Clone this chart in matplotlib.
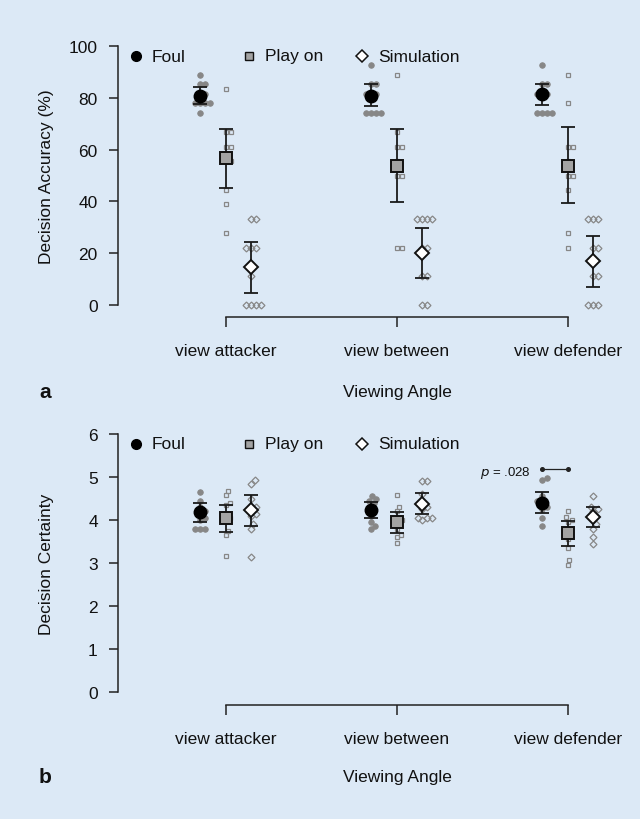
import matplotlib
matplotlib.use('Agg')
import matplotlib.pyplot as plt
import numpy as np

plt.rcParams['font.family'] = ['Liberation Sans', 'DejaVu Sans']

# ---------------- data ----------------
categories = ['view attacker', 'view between', 'view defender']
conditions = ['Foul', 'Play on', 'Simulation']

# Panel a: Decision accuracy (%) per participant
acc_foul = [
    [88.9, 85.2, 85.2, 81.5, 81.5, 77.8, 77.8, 77.8, 77.8, 74.1],
    [92.6, 85.2, 85.2, 81.5, 81.5, 81.5, 74.1, 74.1, 74.1, 74.1],
    [92.6, 85.2, 85.2, 81.5, 81.5, 81.5, 74.1, 74.1, 74.1, 74.1],
]
acc_playon = [
    [83.3, 66.7, 66.7, 61.1, 61.1, 55.6, 55.6, 44.4, 38.9, 27.8],
    [88.9, 66.7, 61.1, 61.1, 55.6, 50.0, 50.0, 22.2, 22.2],
    [88.9, 77.8, 61.1, 61.1, 55.6, 50.0, 50.0, 44.4, 27.8, 22.2],
]
acc_sim = [
    [33.3, 33.3, 22.2, 22.2, 22.2, 11.1, 0.0, 0.0, 0.0, 0.0],
    [33.3, 33.3, 33.3, 33.3, 22.2, 22.2, 11.1, 11.1, 0.0, 0.0],
    [33.3, 33.3, 33.3, 22.2, 22.2, 11.1, 11.1, 0.0, 0.0, 0.0],
]
acc_mean = {'Foul': [80.8, 80.8, 81.4], 'Play on': [56.7, 53.8, 53.8], 'Simulation': [14.5, 20.0, 16.9]}
acc_lo = {'Foul': [77.5, 76.7, 77.1], 'Play on': [45.3, 39.7, 39.5], 'Simulation': [4.6, 10.5, 6.8]}
acc_hi = {'Foul': [84.2, 85.3, 85.4], 'Play on': [68.1, 68.1, 68.6], 'Simulation': [24.5, 29.9, 26.7]}

# Panel b: Decision certainty per participant
cert_foul = [
    [4.65, 4.45, 4.30, 4.20, 4.15, 4.05, 4.00, 3.80, 3.80, 3.80],
    [4.55, 4.50, 4.45, 4.40, 4.30, 4.20, 4.10, 3.95, 3.87, 3.80],
    [4.97, 4.93, 4.55, 4.45, 4.40, 4.35, 4.30, 4.25, 4.05, 3.87],
]
cert_playon = [
    [4.67, 4.57, 4.40, 4.35, 4.15, 4.05, 4.00, 3.75, 3.65, 3.17],
    [4.58, 4.30, 4.20, 4.00, 3.95, 3.90, 3.80, 3.65, 3.60, 3.47],
    [4.22, 4.06, 4.00, 3.95, 3.80, 3.70, 3.55, 3.35, 3.07, 2.96],
]
cert_sim = [
    [4.93, 4.84, 4.50, 4.30, 4.25, 4.15, 4.10, 3.90, 3.79, 3.13],
    [4.90, 4.90, 4.60, 4.40, 4.30, 4.25, 4.05, 4.05, 4.05, 4.00],
    [4.55, 4.30, 4.25, 4.20, 4.10, 4.00, 3.90, 3.80, 3.60, 3.45],
]
cert_mean = {'Foul': [4.18, 4.23, 4.40], 'Play on': [4.04, 3.96, 3.69], 'Simulation': [4.23, 4.37, 4.07]}
cert_lo = {'Foul': [3.96, 4.05, 4.16], 'Play on': [3.71, 3.69, 3.39], 'Simulation': [3.85, 4.14, 3.84]}
cert_hi = {'Foul': [4.39, 4.43, 4.64], 'Play on': [4.35, 4.18, 3.97], 'Simulation': [4.59, 4.62, 4.31]}

p_label = '.028'
p_y = 5.18

# ---------------- style ----------------
BG = '#dce9f6'
PT = '#878787'
W, H = 640, 820
DPI = 100
XPX = 171.0  # pixels per category unit
cond_off = [-0.15, 0.0, 0.15]

pt_style = {
    'Foul': dict(marker='o', ms=4.0, mfc=PT, mec=PT, mew=0.6),
    'Play on': dict(marker='s', ms=3.5, mfc='none', mec=PT, mew=0.9),
    'Simulation': dict(marker='D', ms=3.5, mfc='none', mec=PT, mew=0.9),
}
mean_style = {
    'Foul': dict(marker='o', ms=9.0, mfc='black', mec='black', mew=1.0),
    'Play on': dict(marker='s', ms=8.0, mfc='#a3a3a3', mec='#111111', mew=1.4),
    'Simulation': dict(marker='D', ms=7.6, mfc='white', mec='#111111', mew=1.4),
}
leg_style = {
    'Foul': dict(marker='o', ms=7.0, mfc='black', mec='black', mew=1.0),
    'Play on': dict(marker='s', ms=6.0, mfc='#a3a3a3', mec='#111111', mew=1.0),
    'Simulation': dict(marker='D', ms=5.8, mfc='white', mec='#111111', mew=1.1),
}


def swarm(values, ypx, d=5.0):
    """R-beeswarm-like horizontal offsets (in category units)."""
    vals = np.asarray(values, float)
    order = np.argsort(vals, kind='stable')
    placed = []
    offs = np.zeros(len(vals))
    for i in order:
        y = vals[i] * ypx
        cands = [0.0]
        for (px, py) in placed:
            dy = abs(y - py)
            if dy < d:
                dx = np.sqrt(d * d - dy * dy) + 1e-6
                cands += [px + dx, px - dx]
        best = None
        for c in sorted(cands, key=lambda v: (round(abs(v), 6), -v)):
            if all((c - px) ** 2 + (y - py) ** 2 >= d * d - 1e-6 for px, py in placed):
                best = c
                break
        placed.append((best, y))
        offs[i] = best
    return offs / XPX


def panel(ax, pts, mean, lo, hi, ypx, yticks, ylim, ypix0, spine_out):
    ax.set_facecolor('none')
    ax.set_xlim(0.37, 3.37)
    ax.set_ylim(*ylim)
    for ci, cond in enumerate(conditions):
        for gi in range(3):
            vals = pts[cond][gi]
            xo = swarm(vals, ypx)
            x = gi + 1 + cond_off[ci] + xo
            ax.plot(x, vals, ls='none', zorder=2, clip_on=False, **pt_style[cond])
    for ci, cond in enumerate(conditions):
        x = np.arange(1, 4) + cond_off[ci]
        m = np.array(mean[cond])
        err = np.vstack([m - np.array(lo[cond]), np.array(hi[cond]) - m])
        ax.errorbar(x, m, yerr=err, fmt='none', ecolor='#1a1a1a', elinewidth=1.3,
                    capsize=4.8, capthick=1.3, zorder=3, clip_on=False)
        ax.plot(x, m, ls='none', zorder=4, clip_on=False, **mean_style[cond])
    # axes
    for s in ['top', 'right']:
        ax.spines[s].set_visible(False)
    ax.spines['left'].set_bounds(yticks[0], yticks[-1])
    ax.spines['bottom'].set_bounds(1, 3)
    ax.spines['bottom'].set_position(('outward', spine_out))
    for s in ['left', 'bottom']:
        ax.spines[s].set_linewidth(1.1)
        ax.spines[s].set_color('#222222')
    ax.set_yticks(yticks)
    ax.set_xticks([1, 2, 3])
    ax.set_xticklabels(categories)
    ax.tick_params(axis='y', length=6.5, width=1.1, pad=8, labelsize=12.5, colors='#222222', labelcolor='#111111')
    ax.tick_params(axis='x', length=7.5, width=1.1, pad=11, labelsize=12.5, colors='#222222', labelcolor='#111111')
    # legend (fixed-spacing keys, as in the original)
    axw = ax.get_position().width * W
    bb = ax.get_position()
    for ci, cond in enumerate(conditions):
        xk = (136 + 113 * ci - 118) / axw
        yk = (H - ypix0 - bb.y0 * H) / (bb.height * H)
        ax.plot([xk], [yk], transform=ax.transAxes, ls='none', clip_on=False, zorder=5, **leg_style[cond])
        ax.text(xk + 16 / axw, yk, cond, transform=ax.transAxes, fontsize=12.5,
                va='center', ha='left', color='#111111')


fig = plt.figure(figsize=(W / DPI, H / DPI), dpi=DPI)
fig.patch.set_facecolor(BG)

L = 118 / W
AW = 513 / W

# top panel: 0 -> 306px, 100 -> 47px
a_ypx = (306 - 47) / 100.0
a_ylim = (-3, 103)
a_bot = 306 + 3 * a_ypx
a_top = 47 - 3 * a_ypx
ax1 = fig.add_axes([L, 1 - a_bot / H, AW, (a_bot - a_top) / H])
panel(ax1, {'Foul': acc_foul, 'Play on': acc_playon, 'Simulation': acc_sim},
      acc_mean, acc_lo, acc_hi, a_ypx, [0, 20, 40, 60, 80, 100], a_ylim,
      57, (318 - a_bot) * 72 / DPI)

# bottom panel: 0 -> 693px, 6 -> 435px
b_ypx = (693 - 435) / 6.0
b_ylim = (-0.2, 6.2)
b_bot = 693 + 0.2 * b_ypx
b_top = 435 - 0.2 * b_ypx
ax2 = fig.add_axes([L, 1 - b_bot / H, AW, (b_bot - b_top) / H])
panel(ax2, {'Foul': cert_foul, 'Play on': cert_playon, 'Simulation': cert_sim},
      cert_mean, cert_lo, cert_hi, b_ypx, [0, 1, 2, 3, 4, 5, 6], b_ylim,
      445, (706 - b_bot) * 72 / DPI)

# significance bracket in panel b
xf = 3 + cond_off[0]
xp = 3 + cond_off[1]
ax2.plot([xf, xp], [p_y, p_y], color='#222222', lw=0.9, marker='o', ms=2.6, zorder=5, clip_on=False)
ax2.text(xf - 0.065, p_y - 0.07, r'$\it{p}$ = ' + p_label, fontsize=9.5, ha='right', va='center', color='#111111')

# axis titles / panel letters
fig.text(47 / W, 1 - 176.5 / H, 'Decision Accuracy (%)', rotation=90, fontsize=12.5, ha='center', va='center', color='#111111')
fig.text(47 / W, 1 - 564 / H, 'Decision Certainty', rotation=90, fontsize=12.5, ha='center', va='center', color='#111111')
fig.text(397 / W, 1 - 393 / H, 'Viewing Angle', fontsize=12.5, ha='center', va='center', color='#111111')
fig.text(397 / W, 1 - 778 / H, 'Viewing Angle', fontsize=12.5, ha='center', va='center', color='#111111')
fig.text(45 / W, 1 - 393 / H, 'a', fontsize=15, fontweight='bold', ha='center', va='center', color='#111111')
fig.text(45 / W, 1 - 778 / H, 'b', fontsize=15, fontweight='bold', ha='center', va='center', color='#111111')

fig.savefig('out.png', dpi=DPI, facecolor=BG)
